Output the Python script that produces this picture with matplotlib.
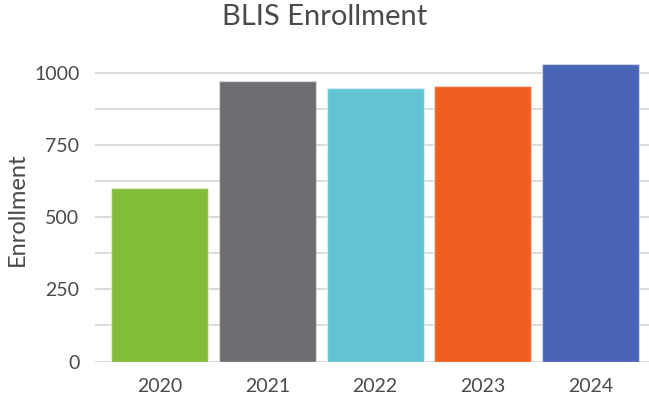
import matplotlib
matplotlib.use("Agg")
import matplotlib.pyplot as plt
import numpy as np

years = ["2020", "2021", "2022", "2023", "2024"]
enrollment = [601, 970, 948, 955, 1031]
colors = ["#84BD3A", "#6D6E71", "#62C3D3", "#F15E22", "#4A64B6"]
yticks = [0, 250, 500, 750, 1000]
grid_lines = [0, 125, 250, 375, 500, 625, 750, 875, 1000]

plt.rcParams['font.family'] = ['Lato', 'DejaVu Sans']
txt = "#4a4a4a"

fig = plt.figure(figsize=(6.49, 4.04), dpi=100)
ax = fig.add_axes([0.146, 0.105, 0.854, 0.737])

for g in grid_lines:
    ax.axhline(g, color="#dadada", lw=1.4, zorder=0)

x = np.arange(len(years))
ax.bar(x, enrollment, width=0.9, color=colors, edgecolor=(1, 1, 1, 0.45),
       linewidth=1, zorder=2)

ax.set_xlim(-0.6, 4.54)
ax.set_ylim(0, 1031)
ax.set_xticks(x)
ax.set_xticklabels(years)
ax.set_yticks(yticks)
ax.tick_params(length=0, labelsize=14, labelcolor=txt)
ax.tick_params(axis='y', pad=11)
ax.tick_params(axis='x', pad=12)
for s in ax.spines.values():
    s.set_visible(False)

ax.set_ylabel("Enrollment", fontsize=17, color=txt)
ax.yaxis.set_label_coords(-0.12, 0.51)
fig.suptitle("BLIS Enrollment", fontsize=21, color=txt, x=0.5, y=0.99)

fig.savefig("out.png", dpi=100)
